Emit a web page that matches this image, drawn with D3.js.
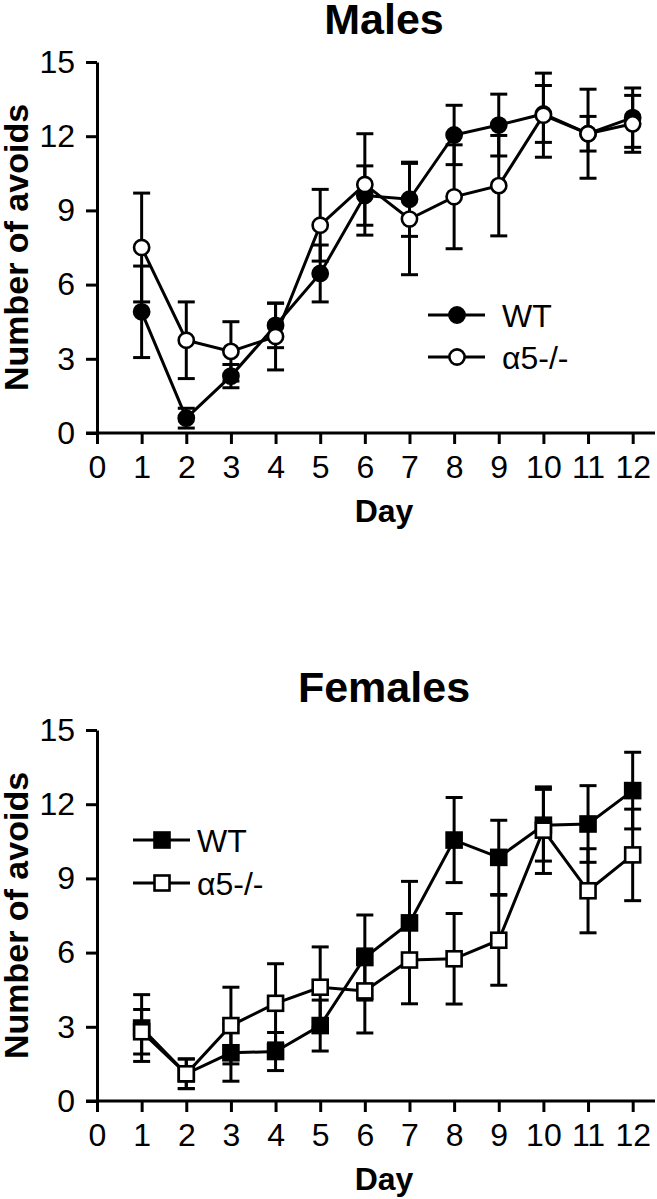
<!DOCTYPE html>
<html><head><meta charset="utf-8">
<script src="https://cdn.jsdelivr.net/npm/d3@7"></script>
<style>
html,body{margin:0;padding:0;background:#fff;}
svg{display:block;font-family:"Liberation Sans",Arial,Helvetica,sans-serif;}
</style></head>
<body><svg id="c" width="657" height="1199"></svg>
<script>
const days = [1,2,3,4,5,6,7,8,9,10,11,12];
const xTicks = [0,1,2,3,4,5,6,7,8,9,10,11,12];
const yTicks = [0,3,6,9,12,15];

const maleWT     = [4.9, 0.6, 2.3, 4.35, 6.45, 9.6, 9.45, 12.05, 12.45, 12.9, 12.1, 12.75];
const maleWTErr  = [1.85, 0.4, 0.47, 0.9, 1.15, 1.2, 1.5, 1.2, 1.25, 1.15, 0.7, 1.2];
const maleKO     = [7.5, 3.75, 3.3, 3.9, 8.4, 10.05, 8.65, 9.55, 10.0, 12.85, 12.1, 12.5];
const maleKOErr  = [2.2, 1.55, 1.2, 1.35, 1.45, 2.05, 2.25, 2.1, 2.03, 1.7, 1.8, 1.15];

const femaleWT    = [2.95, 1.1, 1.95, 2.0, 3.05, 5.8, 7.2, 10.55, 9.85, 11.15, 11.2, 12.55];
const femaleWTErr = [1.35, 0.6, 1.15, 0.77, 1.03, 1.72, 1.68, 1.72, 1.5, 1.45, 1.55, 1.55];
const femaleKO    = [2.8, 1.1, 3.05, 3.95, 4.6, 4.45, 5.7, 5.75, 6.5, 10.95, 8.5, 9.95];
const femaleKOErr = [0.9, 0.6, 1.55, 1.6, 1.63, 1.7, 1.77, 1.83, 1.82, 1.75, 1.7, 1.85];

const seriesNames = ["WT", "\u03b15-/-"];

const svg = d3.select("#c");
const SW = 3;

function panel(opt){
  const g = svg.append("g").attr("transform", `translate(0,${opt.dy})`);
  const x = d3.scaleLinear().domain([0, 12.5]).range([97, 655]);
  const y = d3.scaleLinear().domain([0, 15]).range([433, 62]);

  // title
  g.append("text").attr("x", 384).attr("y", 34).attr("text-anchor","middle")
    .attr("font-size", 43).attr("font-weight","bold").text(opt.title);

  // axes
  const ax = g.append("g").attr("transform","translate(0,433)")
    .call(d3.axisBottom(x).tickValues(xTicks).tickSize(11).tickSizeOuter(0).tickPadding(11));
  const ay = g.append("g").attr("transform","translate(97,0)")
    .call(d3.axisLeft(y).tickValues(yTicks).tickSize(11).tickSizeOuter(0).tickPadding(11));
  [ax, ay].forEach(a => {
    a.selectAll("path,line").attr("stroke","#000").attr("stroke-width", SW);
    a.selectAll("text").attr("font-size", 32).attr("fill","#000")
      .attr("font-family","'Liberation Sans',Arial,sans-serif");
  });
  ax.select(".domain").attr("d", `M86,0H655`);

  // axis labels
  g.append("text").attr("transform", `translate(28,${(62+433)/2}) rotate(-90)`)
    .attr("text-anchor","middle").attr("font-size", 34).attr("font-weight","bold").text("Number of avoids");
  g.append("text").attr("x", 384).attr("y", 522).attr("text-anchor","middle")
    .attr("font-size", 32).attr("font-weight","bold").text("Day");

  const sets = [
    {vals: opt.wt, err: opt.wtErr, fill: "#000"},
    {vals: opt.ko, err: opt.koErr, fill: "#fff"}
  ];
  // error bars
  sets.forEach(s => {
    const eg = g.append("g");
    days.forEach((d,i) => {
      const cx = x(d), hi = y(s.vals[i] + s.err[i]), lo = y(Math.max(0, s.vals[i] - s.err[i]));
      eg.append("line").attr("x1",cx).attr("x2",cx).attr("y1",hi).attr("y2",lo)
        .attr("stroke","#000").attr("stroke-width",SW);
      [hi, lo].forEach(yy => eg.append("line").attr("x1",cx-8.5).attr("x2",cx+8.5)
        .attr("y1",yy).attr("y2",yy).attr("stroke","#000").attr("stroke-width",SW));
    });
  });
  // lines
  const line = d3.line().x((v,i)=>x(days[i])).y(v=>y(v));
  sets.forEach(s => g.append("path").attr("d", line(s.vals)).attr("fill","none")
    .attr("stroke","#000").attr("stroke-width",SW));
  // markers
  function marker(sel, cx, cy, fill){
    if(opt.shape === "circle"){
      sel.append("circle").attr("cx",cx).attr("cy",cy).attr("r",7.6)
        .attr("fill",fill).attr("stroke","#000").attr("stroke-width",2.6);
    } else {
      sel.append("rect").attr("x",cx-7.5).attr("y",cy-7.5).attr("width",15).attr("height",15)
        .attr("fill",fill).attr("stroke","#000").attr("stroke-width",2.6);
    }
  }
  sets.forEach(s => {
    const mg = g.append("g");
    days.forEach((d,i) => marker(mg, x(d), y(s.vals[i]), s.fill));
  });

  // legend
  const L = opt.legend;
  sets.forEach((s,k) => {
    const ly = L.y + k*L.gap;
    g.append("line").attr("x1",L.x).attr("x2",L.x+57).attr("y1",ly).attr("y2",ly)
      .attr("stroke","#000").attr("stroke-width",SW);
    marker(g, L.x+29, ly, s.fill);
    g.append("text").attr("x", L.x+L.tx).attr("y", ly+11.5).attr("font-size",32)
      .text(seriesNames[k]);
  });
}

panel({dy:0, title:"Males", shape:"circle", wt:maleWT, wtErr:maleWTErr, ko:maleKO, koErr:maleKOErr,
  legend:{x:428, y:315, gap:42, tx:74}});
panel({dy:668, title:"Females", shape:"square", wt:femaleWT, wtErr:femaleWTErr, ko:femaleKO, koErr:femaleKOErr,
  legend:{x:133, y:172, gap:43, tx:64}});
</script></body></html>
